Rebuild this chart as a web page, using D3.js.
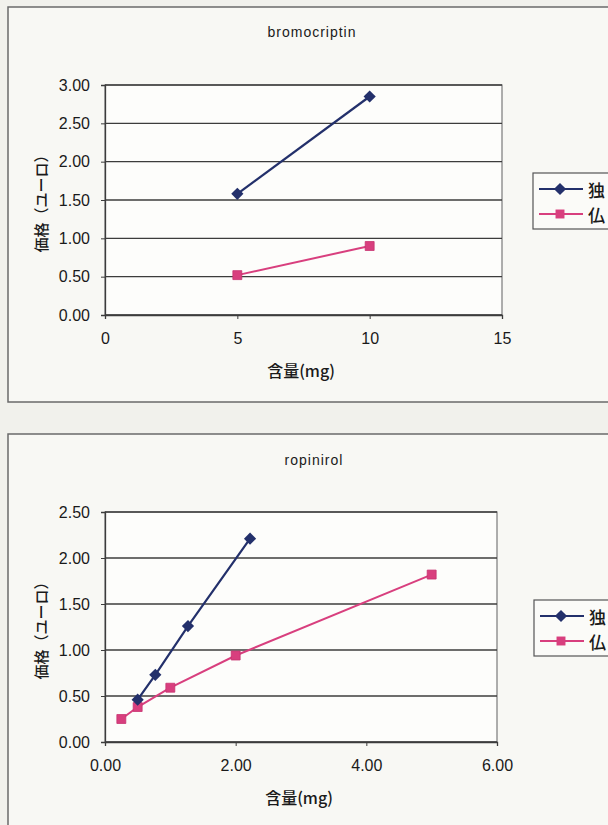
<!DOCTYPE html>
<html>
<head>
<meta charset="utf-8">
<script src="https://cdn.jsdelivr.net/npm/d3@7"></script>
<style>
  html, body { margin: 0; padding: 0; background: #f1f1ec; }
  svg { display: block; }
</style>
</head>
<body>
<script>
// Price per dose for two dopamine agonists, Germany (独) vs France (仏)
const seriesNames = ["独", "仏"];

// bromocriptin
const bromoDoseDE = [5, 10];
const bromoPriceDE = [1.58, 2.85];
const bromoDoseFR = [5, 10];
const bromoPriceFR = [0.52, 0.90];
const bromoXTicks = [0, 5, 10, 15];
const bromoYTicks = [0, 0.5, 1, 1.5, 2, 2.5, 3];

// ropinirol
const ropiDoseDE = [0.5, 0.77, 1.27, 2.22];
const ropiPriceDE = [0.46, 0.73, 1.26, 2.21];
const ropiDoseFR = [0.25, 0.5, 1, 2, 5];
const ropiPriceFR = [0.25, 0.38, 0.59, 0.94, 1.82];
const ropiXTicks = [0, 2, 4, 6];
const ropiYTicks = [0, 0.5, 1, 1.5, 2, 2.5];

const W = 608, H = 825;
const colorDE = "#23306b";
const colorFR = "#d83f7e";
const fontLatin = "'Liberation Sans', Arial, sans-serif";
const fontCJK = "'Noto Sans CJK JP', sans-serif";

const svg = d3.select("body").append("svg")
  .attr("width", W).attr("height", H);

svg.append("rect").attr("width", W).attr("height", H).attr("fill", "#f1f1ec");

function drawChart(cfg) {
  const g = svg.append("g");

  // outer chart frame
  g.append("rect")
    .attr("x", cfg.frame[0]).attr("y", cfg.frame[1])
    .attr("width", cfg.frame[2]).attr("height", cfg.frame[3])
    .attr("fill", "#f8f8f4").attr("stroke", "#6a6a6a").attr("stroke-width", 1.5);

  const x = d3.scaleLinear().domain(cfg.xDomain).range([cfg.plot.left, cfg.plot.right]);
  const y = d3.scaleLinear().domain(cfg.yDomain).range([cfg.plot.bottom, cfg.plot.top]);

  // plot area
  g.append("rect")
    .attr("x", cfg.plot.left).attr("y", cfg.plot.top)
    .attr("width", cfg.plot.right - cfg.plot.left)
    .attr("height", cfg.plot.bottom - cfg.plot.top)
    .attr("fill", "#fdfdfb").attr("stroke", "#7a7a7a").attr("stroke-width", 1.2);

  // horizontal gridlines
  g.append("g").selectAll("line").data(cfg.yTicks).join("line")
    .attr("x1", cfg.plot.left).attr("x2", cfg.plot.right)
    .attr("y1", d => y(d)).attr("y2", d => y(d))
    .attr("stroke", "#3c3c3c").attr("stroke-width", 1.3);

  // y axis
  const yAxis = d3.axisLeft(y).tickValues(cfg.yTicks)
    .tickFormat(d3.format(".2f")).tickSize(4).tickPadding(11);
  const ya = g.append("g").attr("transform", `translate(${cfg.plot.left},0)`).call(yAxis);
  ya.select(".domain").attr("stroke", "#3c3c3c").attr("stroke-width", 1.3);
  ya.selectAll(".tick line").attr("stroke", "#3c3c3c");
  ya.selectAll("text").attr("font-family", fontLatin).attr("font-size", 16)
    .attr("fill", "#1a1a1a");

  // x axis
  const xAxis = d3.axisBottom(x).tickValues(cfg.xTicks)
    .tickFormat(cfg.xFormat).tickSize(4).tickPadding(14);
  const xa = g.append("g").attr("transform", `translate(0,${cfg.plot.bottom})`).call(xAxis);
  xa.select(".domain").attr("stroke", "#3c3c3c").attr("stroke-width", 1.3);
  xa.selectAll(".tick line").attr("stroke", "#3c3c3c");
  xa.selectAll("text").attr("font-family", fontLatin).attr("font-size", 16)
    .attr("fill", "#1a1a1a");

  // titles
  g.append("text").attr("x", cfg.titlePos[0]).attr("y", cfg.titlePos[1])
    .attr("text-anchor", "middle").attr("dominant-baseline", "central")
    .attr("font-family", fontLatin).attr("font-size", 14).attr("letter-spacing", 1)
    .attr("fill", "#1a1a1a").text(cfg.title);

  g.append("text").attr("x", cfg.xTitlePos[0]).attr("y", cfg.xTitlePos[1])
    .attr("text-anchor", "middle").attr("dominant-baseline", "central")
    .attr("font-family", fontCJK).attr("font-size", 16).attr("font-weight", 500)
    .attr("fill", "#1a1a1a").text("含量(mg)");

  g.append("text")
    .attr("transform", `translate(${cfg.yTitlePos[0]},${cfg.yTitlePos[1]}) rotate(-90)`)
    .attr("text-anchor", "middle").attr("dominant-baseline", "central")
    .attr("font-family", fontCJK).attr("font-size", 15).attr("font-weight", 500)
    .attr("fill", "#1a1a1a").text("価格（ユーロ）");

  const line = d3.line().x(d => x(d[0])).y(d => y(d[1]));
  const diamond = d3.symbol().type(d3.symbolDiamond2).size(95);
  const square = d3.symbol().type(d3.symbolSquare).size(80);

  const de = cfg.doseDE.map((d, i) => [d, cfg.priceDE[i]]);
  const fr = cfg.doseFR.map((d, i) => [d, cfg.priceFR[i]]);

  g.append("path").datum(fr).attr("d", line)
    .attr("fill", "none").attr("stroke", colorFR).attr("stroke-width", 2);
  g.append("g").selectAll("path").data(fr).join("path")
    .attr("d", square)
    .attr("transform", d => `translate(${x(d[0])},${y(d[1])})`)
    .attr("fill", colorFR).attr("stroke", "#c83270").attr("stroke-width", 0.8);

  g.append("path").datum(de).attr("d", line)
    .attr("fill", "none").attr("stroke", colorDE).attr("stroke-width", 2.2);
  g.append("g").selectAll("path").data(de).join("path")
    .attr("d", diamond)
    .attr("transform", d => `translate(${x(d[0])},${y(d[1])})`)
    .attr("fill", colorDE);

  // legend
  const lg = g.append("g");
  lg.append("rect").attr("x", cfg.legend[0]).attr("y", cfg.legend[1])
    .attr("width", 90).attr("height", cfg.legend[2])
    .attr("fill", "#fbfbf8").attr("stroke", "#555").attr("stroke-width", 1.2);
  const entries = [
    { name: seriesNames[0], color: colorDE, sym: diamond },
    { name: seriesNames[1], color: colorFR, sym: square }
  ];
  entries.forEach((e, i) => {
    const ey = cfg.legend[1] + 16 + i * 25;
    const lx = cfg.legend[0];
    lg.append("line").attr("x1", lx + 6).attr("x2", lx + 50)
      .attr("y1", ey).attr("y2", ey)
      .attr("stroke", e.color).attr("stroke-width", 2);
    lg.append("path").attr("d", e.sym)
      .attr("transform", `translate(${lx + 27},${ey})`).attr("fill", e.color);
    lg.append("text").attr("x", lx + 55).attr("y", ey)
      .attr("dominant-baseline", "central")
      .attr("font-family", fontCJK).attr("font-size", 17).attr("font-weight", 500)
      .attr("fill", "#1a1a1a").text(e.name);
  });
}

drawChart({
  frame: [8, 7, 620, 395],
  plot: { left: 105, right: 502, top: 85, bottom: 315 },
  xDomain: [0, 15], yDomain: [0, 3],
  xTicks: bromoXTicks, yTicks: bromoYTicks,
  xFormat: d3.format("d"),
  doseDE: bromoDoseDE, priceDE: bromoPriceDE,
  doseFR: bromoDoseFR, priceFR: bromoPriceFR,
  title: "bromocriptin", titlePos: [312, 32],
  xTitlePos: [301, 370], yTitlePos: [40, 200],
  legend: [533, 173, 56]
});

drawChart({
  frame: [8, 434, 620, 420],
  plot: { left: 105, right: 497, top: 512, bottom: 742 },
  xDomain: [0, 6], yDomain: [0, 2.5],
  xTicks: ropiXTicks, yTicks: ropiYTicks,
  xFormat: d3.format(".2f"),
  doseDE: ropiDoseDE, priceDE: ropiPriceDE,
  doseFR: ropiDoseFR, priceFR: ropiPriceFR,
  title: "ropinirol", titlePos: [314, 460],
  xTitlePos: [299, 797], yTitlePos: [40, 627],
  legend: [534, 600, 56]
});
</script>
</body>
</html>
